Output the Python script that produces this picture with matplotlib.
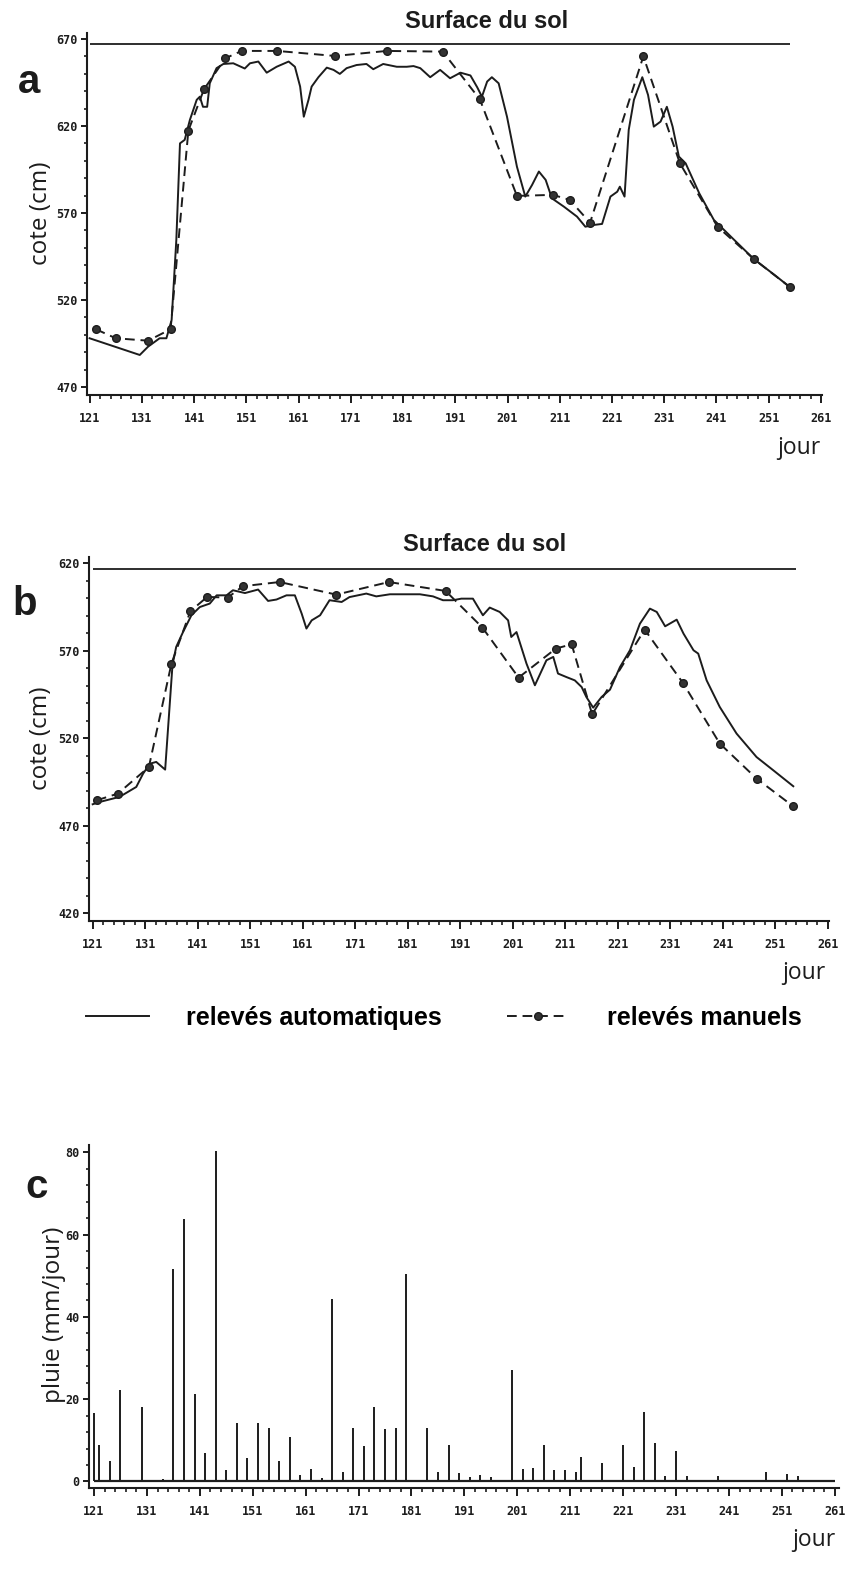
import numpy as np
import matplotlib.pyplot as plt
from matplotlib.ticker import FixedLocator, MultipleLocator

W, H = 847, 1588

# piezometre a : releves automatiques (jour, cote en cm)
jours_auto_a = [121.0, 125.8, 130.6, 132.2, 134.4, 135.7, 136.7, 137.6, 138.3, 139.2,
                140.2, 141.5, 142.1, 142.7, 143.5, 144.0, 145.3, 146.6, 148.5, 150.7,
                151.7, 153.3, 154.9, 156.8, 159.1, 160.3, 161.3, 162.0, 162.9, 163.5,
                164.8, 166.4, 167.7, 168.9, 170.2, 172.1, 174.0, 175.3, 177.2, 179.8,
                181.7, 183.0, 184.3, 186.2, 188.1, 190.0, 192.0, 193.9, 195.2, 196.1,
                197.1, 198.0, 199.3, 200.9, 202.8, 204.4, 205.7, 207.0, 208.3, 209.5,
                211.8, 214.3, 215.9, 217.5, 219.1, 220.7, 222.0, 222.5, 223.4, 224.2,
                225.2, 226.8, 227.9, 229.0, 230.3, 231.5, 232.6, 233.8, 235.1, 237.7,
                240.5, 244.4, 248.2, 252.1, 255.1]
cote_auto_a = [498.0, 493.2, 488.4, 493.2, 498.0, 498.0, 508.5, 554.5, 610.0, 612.0,
               623.5, 635.0, 636.8, 631.0, 631.0, 644.5, 653.2, 655.6, 656.0, 653.0,
               656.0, 657.0, 650.6, 654.0, 657.0, 654.0, 642.6, 625.3, 635.0, 642.6,
               648.0, 653.5, 652.2, 649.9, 653.2, 655.0, 655.6, 652.6, 655.6, 654.0,
               654.0, 654.4, 653.2, 648.0, 652.2, 647.4, 650.6, 649.0, 642.2, 636.8,
               645.5, 648.0, 644.5, 625.3, 596.6, 579.4, 586.1, 593.8, 589.0, 578.4,
               573.6, 567.9, 562.1, 563.1, 563.7, 579.4, 582.2, 585.1, 579.4, 617.7,
               635.0, 648.0, 637.8, 619.6, 622.5, 631.0, 619.6, 602.4, 598.5, 581.3,
               566.0, 554.5, 543.4, 534.4, 527.3]

# piezometre a : releves manuels
jours_man_a = [122.2, 126.0, 132.2, 136.5, 139.9, 142.9, 147.0, 150.1, 156.9, 168.0, 177.9,
               188.6, 195.7, 202.8, 209.7, 212.9, 216.8, 227.0, 234.0, 241.2, 248.2, 255.1]
cote_man_a = [503.2, 498.0, 496.6, 503.2, 617.3, 641.1, 658.9, 663.1, 663.1, 660.2, 663.1,
              662.7, 635.3, 579.8, 580.4, 577.5, 564.4, 660.0, 598.5, 562.1, 543.4, 527.3]
sol_a = 667

# piezometre b : releves automatiques
jours_auto_b = [121.0, 122.3, 126.1, 129.3, 130.6, 131.9, 133.1, 134.8, 136.2, 136.9,
                138.2, 139.8, 141.4, 143.3, 144.6, 146.5, 147.7, 150.0, 152.5, 154.4,
                156.0, 157.9, 159.5, 160.8, 161.7, 162.7, 164.3, 166.1, 168.4, 169.9,
                173.1, 175.0, 177.6, 180.8, 183.3, 185.8, 187.7, 189.6, 191.2, 193.4,
                195.3, 196.6, 198.5, 200.1, 200.7, 201.7, 203.6, 205.2, 207.4, 208.7,
                209.6, 211.2, 212.8, 214.1, 215.0, 216.3, 217.9, 219.5, 221.4, 223.3,
                225.2, 227.1, 228.4, 230.0, 232.2, 233.5, 235.4, 236.3, 237.9, 240.4,
                243.6, 247.4, 250.6, 254.4]
cote_auto_b = [482.3, 483.6, 486.5, 492.2, 499.8, 505.5, 506.5, 502.1, 562.0, 572.2,
               580.7, 590.3, 595.0, 597.0, 601.7, 601.7, 604.6, 603.0, 605.0, 598.5,
               599.3, 601.7, 601.7, 591.2, 582.7, 587.4, 590.3, 598.9, 597.9, 600.7,
               602.7, 601.1, 602.3, 602.3, 602.3, 601.1, 598.9, 598.9, 599.8, 599.8,
               590.3, 594.7, 592.2, 587.4, 577.9, 580.7, 562.7, 550.3, 564.6, 566.5,
               557.0, 555.0, 553.1, 549.3, 543.6, 537.5, 543.6, 547.8, 560.7, 570.3,
               585.5, 594.1, 592.2, 584.0, 587.8, 579.8, 570.3, 568.4, 553.1, 537.9,
               522.7, 509.3, 501.7, 492.6]

# piezometre b : releves manuels
jours_man_b = [121.8, 125.8, 131.7, 136.0, 139.6, 142.8, 146.7, 149.6, 156.6, 167.4, 177.4,
               188.2, 195.2, 202.1, 209.2, 212.2, 216.1, 226.1, 233.4, 240.4, 247.4, 254.4]
cote_man_b = [484.6, 488.4, 503.6, 562.7, 592.6, 600.8, 600.4, 606.9, 609.3, 602.1, 609.3,
              604.2, 583.3, 554.7, 571.3, 573.7, 533.7, 582.1, 551.6, 517.0, 497.0, 481.1]
sol_b = 617

# pluie journaliere (mm/jour)
jours_pluie = [121, 122, 124, 126, 130, 134, 136, 138, 140, 142, 144, 146, 148, 150, 152,
               154, 156, 158, 160, 162, 164, 166, 168, 170, 172, 174, 176, 178, 180, 184,
               186, 188, 190, 192, 194, 196, 200, 202, 204, 206, 208, 210, 212, 213, 217,
               221, 223, 225, 227, 229, 231, 233, 239, 248, 252, 254]
pluie = [16.6, 8.9, 4.9, 22.3, 18.2, 0.6, 51.6, 63.8, 21.3, 7.0, 80.4, 2.8, 14.2, 5.8, 14.2,
         13.0, 4.9, 10.8, 1.5, 3.0, 0.8, 44.3, 2.4, 13.1, 8.5, 18.1, 12.8, 13.0, 50.4, 13.0,
         2.4, 8.9, 2.0, 1.1, 1.6, 1.1, 27.1, 3.0, 3.2, 8.9, 2.7, 2.7, 2.4, 5.9, 4.5,
         8.9, 3.5, 16.9, 9.3, 1.3, 7.3, 1.4, 1.3, 2.4, 1.9, 1.4]

INK = '#1c1c1c'
TICKFONT = dict(family='DejaVu Sans Mono', weight='bold', size=8.5)
HEAD = 'Liberation Sans'
HUMAN = 'Open Sans'


def px(x, y):
    return x / W, 1 - y / H


def box(x0, y0, x1, y1):
    return [x0 / W, 1 - y1 / H, (x1 - x0) / W, (y1 - y0) / H]


def style_axis(ax, ymaj, ymin):
    for s in ['top', 'right']:
        ax.spines[s].set_visible(False)
    for s in ['left', 'bottom']:
        ax.spines[s].set_linewidth(1.5)
        ax.spines[s].set_color(INK)
    ax.xaxis.set_major_locator(FixedLocator(np.arange(121, 262, 10)))
    ax.xaxis.set_minor_locator(FixedLocator(np.arange(121, 262, 2)))
    ax.yaxis.set_major_locator(FixedLocator(ymaj))
    ax.yaxis.set_minor_locator(MultipleLocator(ymin))
    ax.tick_params(axis='x', which='major', length=6, width=1.4, pad=6, color=INK)
    ax.tick_params(axis='x', which='minor', length=3, width=1.2, color=INK)
    ax.tick_params(axis='y', which='major', length=4, width=1.4, pad=3, color=INK)
    ax.tick_params(axis='y', which='minor', length=2, width=1.2, color=INK)
    for lab in ax.get_xticklabels() + ax.get_yticklabels():
        lab.set_fontfamily(TICKFONT['family'])
        lab.set_fontweight(TICKFONT['weight'])
        lab.set_fontsize(TICKFONT['size'])
        lab.set_color(INK)


fig = plt.figure(figsize=(W / 100, H / 100), dpi=100)
fig.patch.set_facecolor('white')

ax_a = fig.add_axes(box(87, 33, 822, 395))
ax_b = fig.add_axes(box(89, 557, 829, 921))
ax_c = fig.add_axes(box(89, 1145, 839, 1488))

lignes = {}
for ax, ja, ca, jm, cm, sol in [(ax_a, jours_auto_a, cote_auto_a, jours_man_a, cote_man_a, sol_a),
                                (ax_b, jours_auto_b, cote_auto_b, jours_man_b, cote_man_b, sol_b)]:
    la, = ax.plot(ja, ca, color=INK, lw=1.4)
    lm, = ax.plot(jm, cm, color=INK, lw=1.4, dashes=(5, 3), marker='o', ms=5.5,
                  markerfacecolor='#333333', markeredgecolor=INK)
    ax.hlines(sol, 121, 255, color=INK, lw=1.3)
    lignes['auto'], lignes['man'] = la, lm

ax_a.set_xlim(120.5, 261.2)
ax_a.set_ylim(465.4, 673.4)
style_axis(ax_a, np.arange(470, 671, 50), 10)

ax_b.set_xlim(120.3, 261.2)
ax_b.set_ylim(415.6, 623.6)
style_axis(ax_b, np.arange(420, 621, 50), 10)

ax_c.vlines(jours_pluie, 0, pluie, color=INK, lw=1.4)
ax_c.hlines(0, 121, 261, color=INK, lw=1.6)
ax_c.set_xlim(120.05, 261.8)
ax_c.set_ylim(-1.6, 81.8)
style_axis(ax_c, np.arange(0, 81, 20), 4)

# titres et libelles
for (x, y) in [(487, 28), (485, 551)]:
    fig.text(*px(x, y), 'Surface du sol', family=HEAD, weight='bold', fontsize=17,
             ha='center', va='baseline', color=INK)

for lettre, (x, y) in [('a', (29, 93)), ('b', (25, 615)), ('c', (37, 1198))]:
    fig.text(*px(x, y), lettre, family=HEAD, weight='bold', fontsize=29,
             ha='center', va='baseline', color=INK)

for texte, (x, y) in [('cote (cm)', (41, 213)), ('cote (cm)', (41, 738)),
                      ('pluie (mm/jour)', (54, 1315))]:
    fig.text(*px(x, y), texte, family=HUMAN, fontsize=17.5, rotation=90,
             ha='center', va='center', color=INK)

for (x, y) in [(799, 448), (804, 973), (814, 1540)]:
    fig.text(*px(x, y), 'jour', family=HUMAN, fontsize=16.5, ha='center', va='center', color=INK)

fig.legend([lignes['auto'], lignes['man']], ['relevés automatiques', 'relevés manuels'],
           loc='center left', bbox_to_anchor=px(86, 1018), ncol=2, frameon=False,
           borderpad=0, borderaxespad=0, numpoints=1, handlelength=2.5,
           handletextpad=1.5, columnspacing=2.6,
           prop=dict(family=HEAD, weight='bold', size=18))

fig.savefig('out.png', dpi=100, facecolor='white')
